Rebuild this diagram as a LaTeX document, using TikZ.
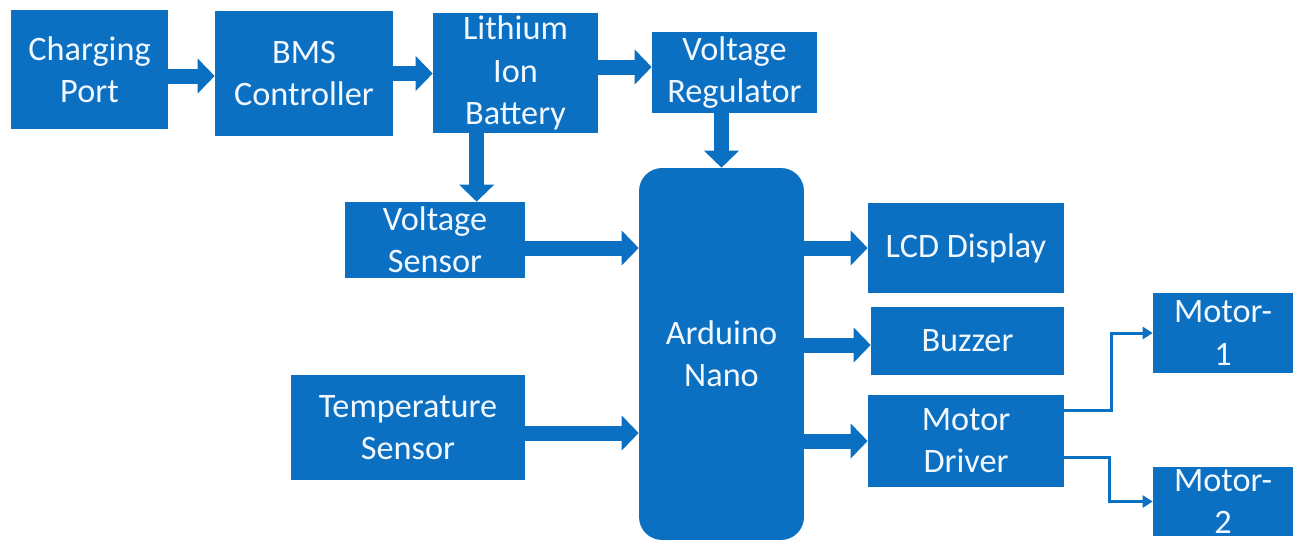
\documentclass[tikz,border=0pt]{standalone}
\usepackage{fontspec}
\setmainfont{Carlito}
\usetikzlibrary{arrows.meta}
\definecolor{BlockBlue}{HTML}{0B6FC2}
\definecolor{LabelWhite}{HTML}{F2F8FF}

\begin{document}
\begin{tikzpicture}[x=0.02cm, y=-0.02cm,
    font=\fontsize{19.5}{24}\selectfont,
    blockbox/.style={fill=BlockBlue, text=LabelWhite, align=center, inner sep=0pt},
    feed/.style={BlockBlue, line width=0.3cm, -{Triangle[width=0.68cm,length=0.34cm]}},
    wire/.style={BlockBlue, line width=0.06cm, -{Triangle[width=0.24cm,length=0.2cm]}}]
  \useasboundingbox (0,0) rectangle (1298,542);

  % Power path along the top row.
  \node[blockbox, minimum width=3.14cm, minimum height=2.38cm] (charge) at (89.5,69.5) {Charging\\Port};
  \node[blockbox, minimum width=3.56cm, minimum height=2.5cm] (bms) at (304,73.5) {BMS\\Controller};
  \node[blockbox, minimum width=3.3cm, minimum height=2.4cm] (batt) at (515.5,73) {Lithium\\Ion\\Battery};
  \node[blockbox, minimum width=3.3cm, minimum height=1.62cm] (vreg) at (734.5,72.5) {Voltage\\Regulator};

  % Sensors feeding the controller.
  \node[blockbox, minimum width=3.6cm, minimum height=1.52cm] (vsens) at (435,240) {Voltage\\Sensor};
  \node[blockbox, minimum width=4.68cm, minimum height=2.1cm] (temp) at (408,427.5) {Temperature\\Sensor};
  \node[blockbox, rounded corners=0.46cm, minimum width=3.3cm, minimum height=7.44cm] (ardu) at (721.5,354) {Arduino\\Nano};

  % Outputs on the right.
  \node[blockbox, minimum width=3.92cm, minimum height=1.8cm] (lcd) at (966,248) {LCD Display};
  \node[blockbox, minimum width=3.86cm, minimum height=1.36cm] (buzz) at (967.5,341) {Buzzer};
  \node[blockbox, minimum width=3.92cm, minimum height=1.84cm] (mdrv) at (966,441) {Motor\\Driver};
  \node[blockbox, minimum width=2.8cm, minimum height=1.6cm] (mot1) at (1223,333) {Motor-\\1};
  \node[blockbox, minimum width=2.8cm, minimum height=1.38cm] (mot2) at (1223,501.5) {Motor-\\2};

  \draw[feed] ([yshift=-0.13cm]charge.east) -- ([yshift=-0.13cm]charge.east -| bms.west);
  \draw[feed] (bms.east) -- (bms.east -| batt.west);
  \draw[feed] ([yshift=0.11cm]vreg.west -| batt.east) -- ([yshift=0.11cm]vreg.west);
  \draw[feed] ([xshift=0.88cm]batt.south west) -- ([xshift=0.88cm]batt.south west |- vsens.north);
  \draw[feed] (vreg.south -| ardu.north) -- (ardu.north);
  \draw[feed] ([yshift=-0.16cm]vsens.east) -- ([yshift=-0.16cm]vsens.east -| ardu.west);
  \draw[feed] ([yshift=-0.11cm]temp.east) -- ([yshift=-0.11cm]temp.east -| ardu.west);
  \draw[feed] (lcd.west -| ardu.east) -- (lcd.west);
  \draw[feed] ([yshift=-0.08cm]buzz.west -| ardu.east) -- ([yshift=-0.08cm]buzz.west);
  \draw[feed] (mdrv.west -| ardu.east) -- (mdrv.west);

  % Driver to the two motors.
  \draw[wire] ([yshift=0.62cm]mdrv.east) -- ++(47,0) |- (mot1.west);
  \draw[wire] ([yshift=-0.32cm]mdrv.east) -- ++(45,0) |- (mot2.west);
\end{tikzpicture}
\end{document}
